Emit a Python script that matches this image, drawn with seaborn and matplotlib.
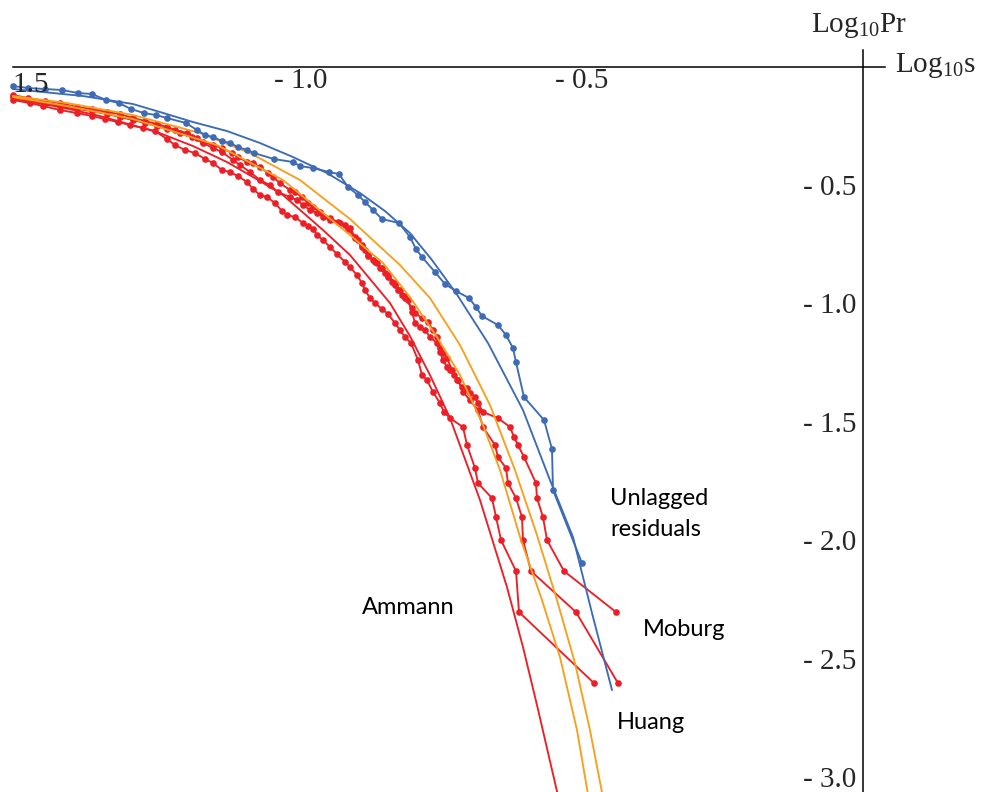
import numpy as np
import pandas as pd
import matplotlib
matplotlib.use("Agg")
import matplotlib.pyplot as plt
import seaborn as sns

# ---------------- data (Log10 s , Log10 Pr) ----------------
blue_fit_x = [-1.5125, -1.4591, -1.3879, -1.2990, -1.2509, -1.1922, -1.1317, -1.0730, -1.0143,
              -0.9538, -0.8950, -0.8506, -0.8061, -0.7669, -0.7242, -0.6673, -0.6050, -0.5570,
              -0.5160, -0.4822, -0.4466]
blue_fit_y = [-0.0946, -0.1073, -0.1242, -0.1579, -0.1917, -0.2340, -0.2720, -0.3226, -0.3818,
              -0.4493, -0.5338, -0.6098, -0.7027, -0.8167, -0.9561, -1.1672, -1.4502, -1.7458,
              -1.9865, -2.3075, -2.6326]

blue_data_x = [-1.5125, -1.4858, -1.4555, -1.4253, -1.3968, -1.3719, -1.3470, -1.3239, -1.3025,
               -1.2794, -1.2580, -1.2385, -1.2047, -1.1851, -1.1708, -1.1566, -1.1406, -1.1264,
               -1.1121, -1.0961, -1.0837, -1.0481, -1.0143, -1.0018, -0.9787, -0.9502, -0.9324,
               -0.9164, -0.8986, -0.8861, -0.8719, -0.8559, -0.8256, -0.8061, -0.7954, -0.7847,
               -0.7616, -0.7438, -0.7242, -0.7011, -0.6886, -0.6780, -0.6495, -0.6352, -0.6228,
               -0.6175, -0.6032, -0.5676, -0.5534, -0.5516, -0.5000]
blue_data_y = [-0.0819, -0.0904, -0.0946, -0.0988, -0.1115, -0.1157, -0.1410, -0.1537, -0.1791,
               -0.1959, -0.2044, -0.2171, -0.2382, -0.2677, -0.2889, -0.2973, -0.3142, -0.3226,
               -0.3395, -0.3522, -0.3649, -0.3902, -0.4029, -0.4198, -0.4282, -0.4451, -0.4536,
               -0.5085, -0.5422, -0.5718, -0.6056, -0.6436, -0.6605, -0.7196, -0.7703, -0.8041,
               -0.8674, -0.9181, -0.9477, -0.9772, -1.0152, -1.0532, -1.0912, -1.1335, -1.1884,
               -1.2475, -1.3953, -1.4924, -1.6149, -1.7880, -2.0963]

orange_outer_x = [-1.5125, -1.4164, -1.2990, -1.1797, -1.0908, -1.0018, -0.9128, -0.8239, -0.7705,
                  -0.7171, -0.6637, -0.6192, -0.5801, -0.5445, -0.5125, -0.4858, -0.4618]
orange_outer_y = [-0.1242, -0.1537, -0.2044, -0.2804, -0.3649, -0.4789, -0.6436, -0.8378, -0.9772,
                  -1.1757, -1.4291, -1.7036, -1.9781, -2.2526, -2.5186, -2.8015, -3.0972]

orange_inner_x = [-1.5125, -1.4164, -1.2990, -1.1495, -1.0321, -0.9128, -0.8541, -0.8061, -0.7580,
                  -0.7171, -0.6762, -0.6459, -0.6086, -0.5712, -0.5392, -0.5089, -0.4876]
orange_inner_y = [-0.1284, -0.1664, -0.2213, -0.3311, -0.4789, -0.7112, -0.8294, -0.9730, -1.1419,
                  -1.3024, -1.5135, -1.7036, -1.9992, -2.2526, -2.4933, -2.8015, -3.0972]

red_fit_x = [-1.5125, -1.4289, -1.3577, -1.2563, -1.1922, -1.1317, -1.0730, -1.0321, -0.9609,
             -0.9128, -0.8417, -0.8061, -0.7705, -0.7349, -0.6815, -0.6335, -0.6050, -0.5801,
             -0.5409]
red_fit_y = [-0.1368, -0.1706, -0.2086, -0.2762, -0.3353, -0.4029, -0.4831, -0.5422, -0.6900,
             -0.7956, -0.9983, -1.1377, -1.3024, -1.4840, -1.8303, -2.1977, -2.4510, -2.6960,
             -3.0972]

ammann_x = [-1.5125, -1.4822, -1.4591, -1.4289, -1.3986, -1.3719, -1.3488, -1.3257, -1.3043,
            -1.2812, -1.2598, -1.2385, -1.2242, -1.2064, -1.1886, -1.1708, -1.1566, -1.1406,
            -1.1264, -1.1121, -1.0961, -1.0854, -1.0730, -1.0605, -1.0463, -1.0338, -1.0249,
            -1.0107, -0.9965, -0.9876, -0.9787, -0.9716, -0.9609, -0.9484, -0.9360, -0.9217,
            -0.9128, -0.9004, -0.8915, -0.8861, -0.8772, -0.8683, -0.8559, -0.8452, -0.8328,
            -0.8239, -0.8150, -0.8043, -0.7918, -0.7847, -0.7758, -0.7651, -0.7527, -0.7456,
            -0.7349, -0.7118, -0.7046, -0.6904, -0.6851, -0.6602, -0.6530, -0.6441, -0.6175,
            -0.6121, -0.4787]
ammann_y = [-0.1410, -0.1537, -0.1664, -0.1833, -0.1959, -0.2086, -0.2213, -0.2340, -0.2466,
            -0.2593, -0.2720, -0.3057, -0.3311, -0.3522, -0.3649, -0.3902, -0.4071, -0.4367,
            -0.4451, -0.4620, -0.4873, -0.5169, -0.5422, -0.5507, -0.5760, -0.6098, -0.6267,
            -0.6351, -0.6605, -0.6731, -0.6858, -0.7112, -0.7323, -0.7618, -0.7914, -0.8252,
            -0.8463, -0.8801, -0.9139, -0.9434, -0.9772, -0.9983, -1.0237, -1.0448, -1.0828,
            -1.1123, -1.1419, -1.1672, -1.2390, -1.3024, -1.3235, -1.3742, -1.4206, -1.4586,
            -1.4840, -1.5220, -1.5980, -1.6951, -1.7585, -1.8218, -1.9021, -1.9992, -2.1301,
            -2.3032, -2.6031]

moburg_x = [-1.5125, -1.4858, -1.4555, -1.4289, -1.3986, -1.3719, -1.3452, -1.3221, -1.2990,
            -1.2776, -1.2563, -1.2385, -1.2242, -1.2029, -1.1851, -1.1744, -1.1566, -1.1406,
            -1.1228, -1.1121, -1.0961, -1.0854, -1.0730, -1.0587, -1.0498, -1.0374, -1.0196,
            -1.0107, -0.9982, -0.9876, -0.9787, -0.9662, -0.9484, -0.9342, -0.9217, -0.9128,
            -0.9039, -0.8986, -0.8915, -0.8861, -0.8808, -0.8719, -0.8648, -0.8594, -0.8506,
            -0.8452, -0.8381, -0.8328, -0.8274, -0.8203, -0.8150, -0.8025, -0.7972, -0.7847,
            -0.7740, -0.7651, -0.7580, -0.7527, -0.7473, -0.7402, -0.7313, -0.7224, -0.7135,
            -0.7046, -0.6993, -0.6904, -0.6851, -0.6762, -0.6495, -0.6281, -0.6210, -0.6139,
            -0.6032, -0.5819, -0.5801, -0.5694, -0.5623, -0.5320, -0.4395]
moburg_y = [-0.1199, -0.1326, -0.1453, -0.1537, -0.1706, -0.1791, -0.1917, -0.2002, -0.2171,
            -0.2297, -0.2424, -0.2551, -0.2677, -0.2804, -0.3015, -0.3184, -0.3311, -0.3438,
            -0.3649, -0.3818, -0.4029, -0.4071, -0.4240, -0.4493, -0.4662, -0.4916, -0.5211,
            -0.5296, -0.5507, -0.5760, -0.5929, -0.6140, -0.6394, -0.6563, -0.6689, -0.6816,
            -0.7196, -0.7323, -0.7534, -0.7745, -0.7956, -0.8167, -0.8294, -0.8505, -0.8716,
            -0.8885, -0.9096, -0.9223, -0.9434, -0.9645, -0.9772, -1.0194, -1.0406, -1.0617,
            -1.0786, -1.1123, -1.1419, -1.1884, -1.2095, -1.2306, -1.2813, -1.3235, -1.3531,
            -1.3573, -1.3784, -1.3953, -1.4206, -1.4586, -1.4840, -1.5220, -1.5642, -1.5980,
            -1.6487, -1.7585, -1.8218, -1.9021, -1.9992, -2.1301, -2.3032]

huang_x = [-1.5125, -1.4858, -1.4555, -1.4289, -1.3986, -1.3719, -1.3452, -1.3221, -1.2990,
           -1.2776, -1.2563, -1.2385, -1.2153, -1.1940, -1.1744, -1.1566, -1.1406, -1.1210,
           -1.1086, -1.0908, -1.0730, -1.0552, -1.0409, -1.0196, -1.0071, -0.9965, -0.9840,
           -0.9716, -0.9609, -0.9484, -0.9306, -0.9164, -0.9039, -0.8915, -0.8808, -0.8683,
           -0.8559, -0.8452, -0.8328, -0.8239, -0.8167, -0.8096, -0.8025, -0.7972, -0.7883,
           -0.7794, -0.7705, -0.7580, -0.7527, -0.7473, -0.7402, -0.7349, -0.7278, -0.7207,
           -0.7118, -0.6993, -0.6851, -0.6762, -0.6548, -0.6495, -0.6352, -0.6317, -0.6175,
           -0.6068, -0.6050, -0.5908, -0.5107, -0.4360]
huang_y = [-0.1284, -0.1410, -0.1537, -0.1664, -0.1791, -0.1875, -0.2002, -0.2128, -0.2255,
           -0.2382, -0.2508, -0.2635, -0.2804, -0.2973, -0.3226, -0.3438, -0.3606, -0.3944,
           -0.4155, -0.4451, -0.4789, -0.5000, -0.5296, -0.5507, -0.5633, -0.5845, -0.6056,
           -0.6182, -0.6351, -0.6478, -0.6605, -0.6858, -0.7238, -0.7618, -0.7998, -0.8252,
           -0.8505, -0.8801, -0.9139, -0.9434, -0.9688, -0.9856, -1.0363, -1.0828, -1.0997,
           -1.1123, -1.1419, -1.1672, -1.2052, -1.2390, -1.2686, -1.2813, -1.3024, -1.3235,
           -1.3742, -1.4079, -1.4502, -1.5220, -1.5980, -1.6487, -1.6951, -1.7585, -1.8218,
           -1.9021, -1.9992, -2.1301, -2.3032, -2.6031]

x_major = [-1.5, -1.0, -0.5]
x_labels = ["", "- 1.0", "- 0.5"]      # the -1.5 label is clipped to "1.5" in the reference
y_major = [-0.5, -1.0, -1.5, -2.0, -2.5, -3.0]
y_labels = ["- 0.5", "- 1.0", "- 1.5", "- 2.0", "- 2.5", "- 3.0"]

# ---------------- style ----------------
sns.set_style("white")
plt.rcParams["font.family"] = ["Liberation Serif", "DejaVu Serif"]
plt.rcParams["mathtext.fontset"] = "custom"
plt.rcParams["mathtext.rm"] = "Liberation Serif"
plt.rcParams["mathtext.it"] = "Liberation Serif:italic"

BLUE = "#3d6bb6"
RED = "#ec1f26"
ORANGE = "#f8a01c"

W, H = 985, 792
fig = plt.figure(figsize=(W / 100, H / 100), dpi=100)
ax = fig.add_axes([0, 0, 1, 1])
ax.set_xlim(-1.5356, 0.2171)
ax.set_ylim(-3.063, 0.2813)

lw = 1.35
ms = 4.8

def dotted(x, y, c):
    sns.lineplot(x=x, y=y, sort=False, estimator=None, color=c, lw=lw,
                 marker="o", markersize=ms, markeredgewidth=0, ax=ax)

def smooth(x, y, c):
    sns.lineplot(x=x, y=y, sort=False, estimator=None, color=c, lw=lw, ax=ax)

dotted(ammann_x, ammann_y, RED)
dotted(huang_x, huang_y, RED)
dotted(moburg_x, moburg_y, RED)
smooth(red_fit_x, red_fit_y, RED)
smooth(orange_inner_x, orange_inner_y, ORANGE)
smooth(orange_outer_x, orange_outer_y, ORANGE)
smooth(blue_fit_x, blue_fit_y, BLUE)
dotted(blue_data_x, blue_data_y, BLUE)

# ---------------- axes through the origin ----------------
for s in ["top", "right"]:
    ax.spines[s].set_visible(False)
ax.spines["bottom"].set_position(("data", 0))
ax.spines["left"].set_position(("data", 0))
ax.spines["bottom"].set_bounds(-1.513, 0.039)
ax.spines["left"].set_bounds(-3.1, 0.07)
for s in ["bottom", "left"]:
    ax.spines[s].set_color("black")
    ax.spines[s].set_linewidth(1.1)

ax.set_xticks(x_major)
ax.set_xticklabels(x_labels)
ax.set_xticks([v / 10 for v in range(-14, 0) if v not in (-10, -5)], minor=True)
ax.set_yticks(y_major)
ax.set_yticklabels(y_labels)
ax.set_yticks([v / 10 for v in range(-30, 0) if v % 5 != 0], minor=True)

ax.tick_params(axis="x", which="major", direction="in", length=4.5, width=0.9,
               color="black", labelsize=21, pad=1)
ax.tick_params(axis="x", which="minor", direction="in", length=3.5, width=0.8, color="black")
ax.tick_params(axis="y", which="major", direction="in", length=4.5, width=0.9,
               color="black", labelsize=21, pad=5)
ax.tick_params(axis="y", which="minor", direction="in", length=3.5, width=0.8, color="black")
ax.set_xlabel("")
ax.set_ylabel("")
ax.grid(False)

# visible remainder of the clipped "-1.5" label
fig.text(12 / W, 1 - 92 / H, "1.5", fontsize=21, ha="left", va="baseline")

# axis titles
fig.text(811 / W, 1 - 32 / H, r"Log$_{10}$Pr", fontsize=21, ha="left", va="baseline")
fig.text(895 / W, 1 - 72 / H, r"Log$_{10}$s", fontsize=21, ha="left", va="baseline")

# annotations
sans = ["Lato", "DejaVu Sans"]
ann = dict(fontsize=17, ha="left", va="baseline", family=sans, color="black")
fig.text(610 / W, 1 - 505 / H, "Unlagged", **ann)
fig.text(610 / W, 1 - 536 / H, "residuals", **ann)
fig.text(362 / W, 1 - 614 / H, "Ammann", **ann)
fig.text(643 / W, 1 - 636 / H, "Moburg", **ann)
fig.text(617 / W, 1 - 729 / H, "Huang", **ann)

fig.savefig("out.png", dpi=100, facecolor="white")
